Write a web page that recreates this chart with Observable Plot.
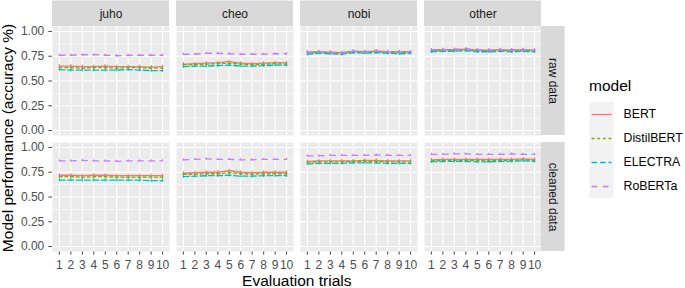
<!DOCTYPE html>
<html><head><meta charset="utf-8">
<script src="https://cdn.jsdelivr.net/npm/d3@7"></script>
<script src="https://cdn.jsdelivr.net/npm/@observablehq/plot@0.6"></script>
<style>
body{margin:0;background:#fff;font-family:"Liberation Sans",Arial,sans-serif;}
#chart{position:relative;width:685px;height:288px;overflow:hidden;background:#fff;}
#chart svg{position:absolute;overflow:visible;}
.ttl{position:absolute;color:#000;font-size:15.5px;line-height:1;white-space:nowrap;font-family:"Liberation Sans",Arial,sans-serif;}
</style></head>
<body><div id="chart"></div>
<script>
// ---- data ----
const trials = [1,2,3,4,5,6,7,8,9,10];
const cols = ["juho","cheo","nobi","other"];
const rows = ["raw data","cleaned data"];
const models = ["BERT","DistilBERT","ELECTRA","RoBERTa"];
const colors = ["#F8766D","#7CAE00","#00BFC4","#C77CFF"];
const yBreaks = [0,0.25,0.5,0.75,1];
const yMinor = [0.125,0.375,0.625,0.875];
const errs = [0.015,0.015,0.018,0.012];

const juhoRawBERT       = [0.650,0.650,0.645,0.645,0.650,0.645,0.645,0.645,0.640,0.645];
const juhoRawDistilBERT = [0.635,0.635,0.630,0.635,0.635,0.630,0.635,0.635,0.630,0.630];
const juhoRawELECTRA    = [0.615,0.610,0.610,0.610,0.610,0.610,0.615,0.610,0.605,0.605];
const juhoRawRoBERTa    = [0.760,0.760,0.765,0.765,0.760,0.755,0.760,0.760,0.760,0.760];

const cheoRawBERT       = [0.670,0.675,0.680,0.685,0.695,0.680,0.675,0.680,0.685,0.685];
const cheoRawDistilBERT = [0.665,0.665,0.670,0.675,0.680,0.670,0.665,0.670,0.675,0.670];
const cheoRawELECTRA    = [0.645,0.650,0.650,0.655,0.660,0.650,0.650,0.655,0.660,0.660];
const cheoRawRoBERTa    = [0.770,0.770,0.780,0.780,0.775,0.770,0.770,0.770,0.775,0.775];

const nobiRawBERT       = [0.790,0.795,0.790,0.785,0.800,0.795,0.800,0.795,0.795,0.795];
const nobiRawDistilBERT = [0.785,0.790,0.785,0.780,0.795,0.790,0.795,0.790,0.790,0.790];
const nobiRawELECTRA    = [0.770,0.780,0.775,0.770,0.785,0.780,0.785,0.780,0.775,0.780];
const nobiRawRoBERTa    = [0.790,0.795,0.790,0.785,0.800,0.795,0.805,0.795,0.795,0.795];

const otherRawBERT       = [0.810,0.815,0.815,0.820,0.810,0.810,0.815,0.810,0.815,0.810];
const otherRawDistilBERT = [0.805,0.810,0.810,0.815,0.805,0.805,0.810,0.805,0.810,0.805];
const otherRawELECTRA    = [0.795,0.800,0.800,0.805,0.795,0.795,0.800,0.795,0.800,0.795];
const otherRawRoBERTa    = [0.815,0.815,0.820,0.825,0.815,0.810,0.815,0.815,0.815,0.810];

const juhoCleanBERT       = [0.720,0.720,0.715,0.720,0.720,0.715,0.715,0.715,0.715,0.715];
const juhoCleanDistilBERT = [0.705,0.705,0.700,0.705,0.705,0.700,0.700,0.700,0.700,0.700];
const juhoCleanELECTRA    = [0.670,0.670,0.670,0.670,0.670,0.670,0.670,0.670,0.665,0.665];
const juhoCleanRoBERTa    = [0.865,0.865,0.870,0.865,0.865,0.860,0.865,0.865,0.865,0.865];

const cheoCleanBERT       = [0.740,0.745,0.750,0.750,0.765,0.750,0.745,0.750,0.750,0.750];
const cheoCleanDistilBERT = [0.730,0.730,0.735,0.735,0.745,0.735,0.730,0.735,0.735,0.735];
const cheoCleanELECTRA    = [0.705,0.710,0.715,0.715,0.720,0.710,0.710,0.715,0.715,0.715];
const cheoCleanRoBERTa    = [0.875,0.880,0.885,0.880,0.880,0.875,0.875,0.880,0.880,0.880];

const nobiCleanBERT       = [0.860,0.865,0.865,0.865,0.865,0.870,0.870,0.865,0.865,0.865];
const nobiCleanDistilBERT = [0.850,0.855,0.855,0.855,0.860,0.860,0.860,0.855,0.855,0.855];
const nobiCleanELECTRA    = [0.835,0.840,0.840,0.840,0.845,0.845,0.845,0.840,0.840,0.840];
const nobiCleanRoBERTa    = [0.915,0.915,0.920,0.920,0.920,0.920,0.925,0.920,0.920,0.920];

const otherCleanBERT       = [0.875,0.880,0.880,0.880,0.880,0.880,0.880,0.880,0.885,0.880];
const otherCleanDistilBERT = [0.865,0.870,0.870,0.870,0.870,0.865,0.870,0.870,0.875,0.870];
const otherCleanELECTRA    = [0.855,0.860,0.860,0.860,0.855,0.855,0.860,0.860,0.865,0.860];
const otherCleanRoBERTa    = [0.930,0.930,0.935,0.935,0.930,0.930,0.930,0.935,0.930,0.930];

// ---- build table ----
const seriesList = [
  ["juho","raw data",[juhoRawBERT,juhoRawDistilBERT,juhoRawELECTRA,juhoRawRoBERTa]],
  ["cheo","raw data",[cheoRawBERT,cheoRawDistilBERT,cheoRawELECTRA,cheoRawRoBERTa]],
  ["nobi","raw data",[nobiRawBERT,nobiRawDistilBERT,nobiRawELECTRA,nobiRawRoBERTa]],
  ["other","raw data",[otherRawBERT,otherRawDistilBERT,otherRawELECTRA,otherRawRoBERTa]],
  ["juho","cleaned data",[juhoCleanBERT,juhoCleanDistilBERT,juhoCleanELECTRA,juhoCleanRoBERTa]],
  ["cheo","cleaned data",[cheoCleanBERT,cheoCleanDistilBERT,cheoCleanELECTRA,cheoCleanRoBERTa]],
  ["nobi","cleaned data",[nobiCleanBERT,nobiCleanDistilBERT,nobiCleanELECTRA,nobiCleanRoBERTa]],
  ["other","cleaned data",[otherCleanBERT,otherCleanDistilBERT,otherCleanELECTRA,otherCleanRoBERTa]]
];
const records = [];
for (const [col,row,arrs] of seriesList) {
  arrs.forEach((vals,mi) => vals.forEach((v,ti) => records.push({col,row,model:models[mi],trial:trials[ti],value:v,err:errs[mi]})));
}
const stripTop = cols.map(c => ({col:c,row:rows[0]}));
const stripRight = rows.map(r => ({col:cols[cols.length-1],row:r}));

// ---- layout ----
const W = 685, H = 288;
const mL = 52.1, mR = 685 - 541.4, mT = 25.5, mB = 37;
const gap = 7.5;
const plotW = W - mL - mR, plotH = H - mT - mB;
const pInX = cols.length*gap/(plotW + gap);
const pInY = rows.length*gap/(plotH + gap);
const panelW = (plotW - gap*(cols.length-1))/cols.length;
const panelH = (plotH - gap*(rows.length-1))/rows.length;
const xDom = [0.4, 10.6], yDom = [-0.05, 1.05];
const kX = panelW/(xDom[1]-xDom[0]);
const kY = panelH/(yDom[1]-yDom[0]);
const stripH = mT, stripW = 23.6;
const dashes = [null, "2.8,2.8", "5.6,2.8", "5.6,5.6"];

const main = Plot.plot({
  width: W, height: H,
  marginLeft: mL, marginRight: mR, marginTop: mT, marginBottom: mB,
  style: {fontFamily: '"Liberation Sans",Arial,sans-serif', fontSize: "12px", color: "#4D4D4D", background: "transparent", overflow: "visible"},
  fx: {domain: cols, paddingInner: pInX, paddingOuter: 0, axis: null, label: null},
  fy: {domain: rows, paddingInner: pInY, paddingOuter: 0, axis: null, label: null},
  x: {type: "linear", domain: xDom, ticks: trials, tickFormat: d3.format("d"), tickSize: 3.7, tickPadding: 5, label: null},
  y: {domain: yDom, ticks: yBreaks, tickFormat: d3.format(".2f"), tickSize: 3.7, tickPadding: 4.5, label: null},
  marks: [
    Plot.frame({fill: "#EBEBEB", stroke: "none"}),
    Plot.ruleY(yMinor, {stroke: "#fff", strokeWidth: 0.55}),
    Plot.ruleY(yBreaks, {stroke: "#fff", strokeWidth: 1.1}),
    Plot.ruleX(trials, {stroke: "#fff", strokeWidth: 1.1}),
    ...models.map((m,i) => Plot.ruleX(records.filter(d => d.model === m), {
      x: "trial", y1: d => d.value - d.err, y2: d => d.value + d.err,
      fx: "col", fy: "row", stroke: colors[i], strokeWidth: 1
    })),
    ...models.map((m,i) => Plot.line(records.filter(d => d.model === m), {
      x: "trial", y: "value", fx: "col", fy: "row",
      stroke: colors[i], strokeWidth: 1.35, strokeDasharray: dashes[i]
    })),
    Plot.rect(stripTop, {fx: "col", fy: "row", y1: yDom[1], y2: yDom[1] + stripH/kY, fill: "#D9D9D9"}),
    Plot.text(stripTop, {fx: "col", fy: "row", y: yDom[1] + stripH/2/kY, text: "col", fill: "#1A1A1A", fontSize: 12}),
    Plot.rect(stripRight, {fx: "col", fy: "row", x1: xDom[1], x2: xDom[1] + stripW/kX, fill: "#D9D9D9"}),
    Plot.text(stripRight, {fx: "col", fy: "row", x: xDom[1] + stripW/2/kX, text: "row", rotate: 90, fill: "#1A1A1A", fontSize: 12})
  ]
});
main.style.left = "0px"; main.style.top = "0px";
const chart = document.getElementById("chart");
chart.appendChild(main);

// ---- legend ----
const legend = Plot.plot({
  width: 98, height: 99,
  margin: 0, marginLeft: 0, marginRight: 0, marginTop: 0, marginBottom: 0,
  style: {fontFamily: '"Liberation Sans",Arial,sans-serif', fontSize: "12.3px", color: "#000", background: "transparent", overflow: "visible"},
  x: {domain: [0,1], range: [2.5, 26.5], axis: null},
  y: {type: "band", domain: models, range: [0, 99], padding: 0, axis: null},
  marks: [
    Plot.barX(models, {y: d => d, x1: 0, x2: 1, fill: "#F2F2F2"}),
    ...models.map((m,i) => Plot.ruleY([m], {y: d => d, x1: 0.09, x2: 0.92, stroke: colors[i], strokeWidth: 1.35, strokeDasharray: dashes[i]})),
    Plot.text(models, {y: d => d, x: 1, dx: 9.5, text: d => d, textAnchor: "start", fill: "#000"})
  ]
});
legend.style.left = "587px"; legend.style.top = "100px";
chart.appendChild(legend);

// ---- titles ----
function addTitle(text, css) {
  const d = document.createElement("div");
  d.className = "ttl"; d.textContent = text;
  Object.assign(d.style, css);
  chart.appendChild(d);
}
addTitle("model", {left: "589px", top: "78.4px"});
addTitle("Evaluation trials", {left: ((mL + W - mR)/2) + "px", top: "272.9px", transform: "translateX(-50%)"});
addTitle("Model performance (accuracy %)", {left: "8.2px", top: ((mT + H - mB)/2) + "px", transform: "translate(-50%,-50%) rotate(-90deg)"});
</script>
</body></html>
